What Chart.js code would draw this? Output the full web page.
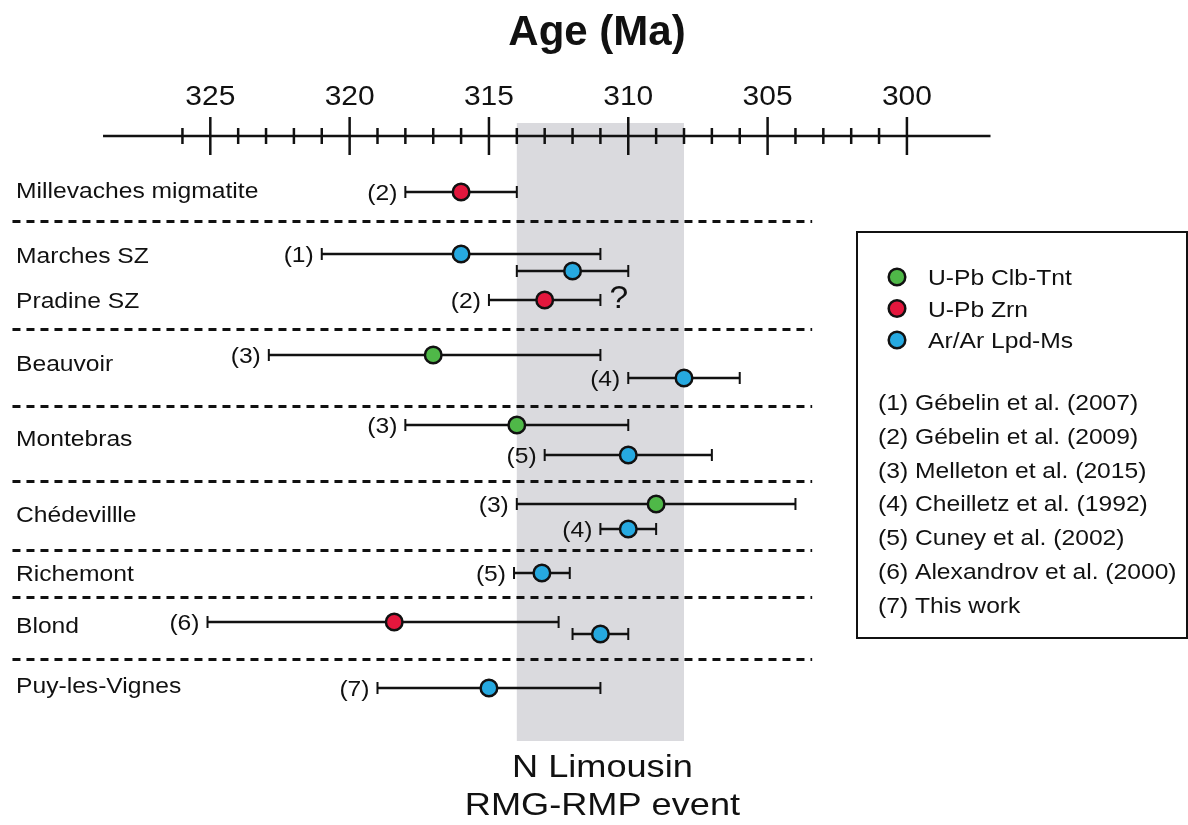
<!DOCTYPE html>
<html>
<head>
<meta charset="utf-8">
<script src="https://cdn.jsdelivr.net/npm/chart.js@4/dist/chart.umd.min.js"></script>
<style>
  body { margin: 0; background: #fff; }
  canvas { display: block; }
</style>
</head>
<body>
<canvas id="ageChart" width="1188" height="825"></canvas>
<script>
var ages     = [316, 316, 312, 313, 317, 308, 314, 310, 309, 310, 313.1, 318.4, 311, 315];
var ageOld   = [318, 321, 314, 315, 322.9, 310, 318, 313, 314, 311, 314.1, 325.1, 312, 319];
var ageYoung = [314, 311, 310, 311, 311, 306, 310, 307, 304, 309, 312.1, 312.5, 310, 311];
var method   = [1, 2, 2, 1, 0, 2, 0, 2, 0, 2, 2, 1, 2, 2];   // index into methods
var refNo    = ['2', '1', '', '2', '3', '4', '3', '5', '3', '4', '5', '6', '', '7'];
var track    = [5.6, 11.8, 13.5, 16.4, 21.9, 24.2, 28.9, 31.9, 36.8, 39.3, 43.7, 48.6, 49.8, 55.2];

var sites    = ['Millevaches migmatite', 'Marches SZ', 'Pradine SZ', 'Beauvoir', 'Montebras',
                'Chédevillle', 'Richemont', 'Blond', 'Puy-les-Vignes'];
var siteTrack = [5.4, 11.9, 16.4, 22.7, 30.2, 37.8, 43.7, 48.9, 54.9];
var groupBreaks = [8.5, 19.3, 27.0, 34.5, 41.4, 46.1, 52.3];

var methods = ['U-Pb Clb-Tnt', 'U-Pb Zrn', 'Ar/Ar Lpd-Ms'];
var methodColors = ['#4fb848', '#e3173d', '#26a9e0'];
var references = ['(1) Gébelin et al. (2007)', '(2) Gébelin et al. (2009)', '(3) Melleton et al. (2015)',
                  '(4) Cheilletz et al. (1992)', '(5) Cuney et al. (2002)', '(6) Alexandrov et al. (2000)',
                  '(7) This work'];

var majorTicks = [325, 320, 315, 310, 305, 300];
var axisRange = [328.85, 297];
var eventBand = [314, 308];

var FONT = '"Liberation Sans", Arial, Helvetica, sans-serif';

function txt(ctx, s, x, y, size, align, sx, weight) {
    ctx.save();
    ctx.font = (weight || 'normal') + ' ' + size + 'px ' + FONT;
    ctx.textAlign = align;
    ctx.textBaseline = 'alphabetic';
    ctx.fillStyle = '#111';
    ctx.translate(x, y);
    ctx.scale(sx, 1);
    ctx.fillText(s, 0, 0);
    ctx.restore();
}

// band, separators, axis and error bars behind the points
var backdrop = {
    id: 'backdrop',
    beforeDatasetsDraw: function (chart) {
        var ctx = chart.ctx, xs = chart.scales.x, ys = chart.scales.y;
        var top = ys.getPixelForValue(0);

        // N Limousin event band
        var b0 = xs.getPixelForValue(eventBand[0]), b1 = xs.getPixelForValue(eventBand[1]);
        ctx.fillStyle = '#dadade';
        ctx.fillRect(b0, top - 13, b1 - b0, ys.getPixelForValue(60.5) - top + 13);

        // dashed group separators
        ctx.save();
        ctx.strokeStyle = '#111';
        ctx.lineWidth = 3;
        ctx.setLineDash([8, 6]);
        groupBreaks.forEach(function (v) {
            var y = Math.round(ys.getPixelForValue(v)) + 0.5;
            ctx.beginPath();
            ctx.moveTo(xs.getPixelForValue(332.1), y);
            ctx.lineTo(xs.getPixelForValue(303.4), y);
            ctx.stroke();
        });
        ctx.restore();

        // age axis
        ctx.save();
        ctx.strokeStyle = '#111';
        ctx.lineWidth = 2.5;
        ctx.beginPath();
        ctx.moveTo(xs.getPixelForValue(axisRange[0]), top);
        ctx.lineTo(xs.getPixelForValue(axisRange[1]), top);
        ctx.stroke();
        for (var v = 326; v >= 300; v--) {
            var px = xs.getPixelForValue(v);
            var len = (v % 5 === 0) ? 19 : 8;
            ctx.beginPath();
            ctx.moveTo(px, top - len);
            ctx.lineTo(px, top + len);
            ctx.stroke();
        }
        ctx.restore();
        majorTicks.forEach(function (v) {
            txt(ctx, String(v), xs.getPixelForValue(v), 105, 28, 'center', 1.07);
        });

        // error bars
        ctx.save();
        ctx.strokeStyle = '#111';
        for (var i = 0; i < ages.length; i++) {
            var y = ys.getPixelForValue(track[i]);
            var xa = xs.getPixelForValue(ageOld[i]), xb = xs.getPixelForValue(ageYoung[i]);
            ctx.lineWidth = 2.5;
            ctx.beginPath();
            ctx.moveTo(xa, y);
            ctx.lineTo(xb, y);
            ctx.stroke();
            ctx.lineWidth = 2;
            ctx.beginPath();
            ctx.moveTo(xa, y - 6); ctx.lineTo(xa, y + 6);
            ctx.moveTo(xb, y - 6); ctx.lineTo(xb, y + 6);
            ctx.stroke();
            if (refNo[i]) {
                txt(ctx, '(' + refNo[i] + ')', xa - 8, y + 8, 22, 'right', 1.12);
            }
        }
        ctx.restore();
        // question mark next to Pradine SZ
        txt(ctx, '?', xs.getPixelForValue(ageYoung[3]) + 9, ys.getPixelForValue(track[3]) + 7.5, 32, 'left', 1.05);
    },
    afterDraw: function (chart) {
        var ctx = chart.ctx, xs = chart.scales.x, ys = chart.scales.y;

        txt(ctx, 'Age (Ma)', 597, 45, 42, 'center', 1, 'bold');

        sites.forEach(function (s, i) {
            txt(ctx, s, 16, ys.getPixelForValue(siteTrack[i]) + 8, 22, 'left', 1.12);
        });

        var mid = xs.getPixelForValue((eventBand[0] + eventBand[1]) / 2);
        txt(ctx, 'N Limousin', mid + 2, 777, 32, 'center', 1.13);
        txt(ctx, 'RMG-RMP event', mid + 2, 815, 32, 'center', 1.13);

        // legend box
        ctx.save();
        ctx.strokeStyle = '#111';
        ctx.lineWidth = 2;
        ctx.strokeRect(857, 232, 330, 406);
        methods.forEach(function (m, i) {
            var y = 277 + i * 31.5;
            ctx.beginPath();
            ctx.arc(897, y, 8.3, 0, Math.PI * 2);
            ctx.fillStyle = methodColors[i];
            ctx.fill();
            ctx.lineWidth = 2.5;
            ctx.stroke();
            txt(ctx, m, 928, y + 8, 22, 'left', 1.12);
        });
        ctx.restore();
        references.forEach(function (r, i) {
            txt(ctx, r, 878, 402 + i * 33.8 + 8, 22, 'left', 1.12);
        });
    }
};

var datasets = methods.map(function (m, k) {
    var pts = [];
    for (var i = 0; i < ages.length; i++) {
        if (method[i] === k) pts.push({ x: ages[i], y: track[i] });
    }
    return {
        label: m,
        data: pts,
        backgroundColor: methodColors[k],
        borderColor: '#111',
        borderWidth: 2.5,
        pointRadius: 8.3,
        pointHoverRadius: 8.3
    };
});

var ageChart = new Chart(document.getElementById('ageChart').getContext('2d'), {
    type: 'scatter',
    data: { datasets: datasets },
    options: {
        responsive: false,
        animation: false,
        layout: { padding: { left: 10, right: 10, top: 136, bottom: 89 } },
        plugins: { legend: { display: false }, tooltip: { enabled: false }, title: { display: false } },
        scales: {
            x: { type: 'linear', reverse: true, min: 290.3, max: 332.16, display: false },
            y: { type: 'linear', reverse: true, min: 0, max: 60, display: false }
        }
    },
    plugins: [backdrop]
});
</script>
</body>
</html>
